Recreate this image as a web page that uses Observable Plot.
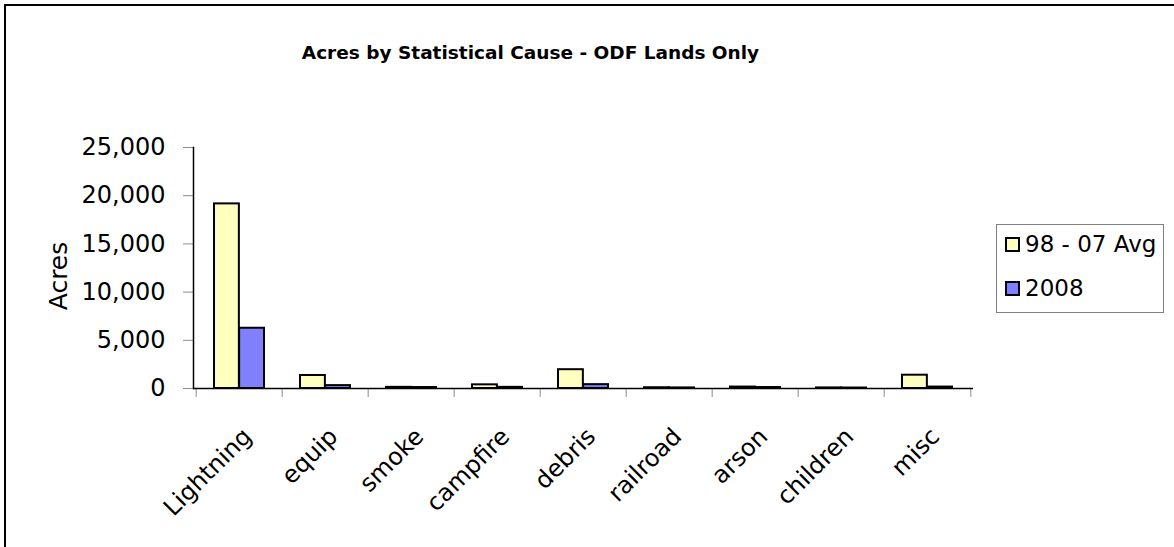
<!DOCTYPE html>
<html>
<head>
<meta charset="utf-8">
<script src="https://cdn.jsdelivr.net/npm/d3@7"></script>
<script src="https://cdn.jsdelivr.net/npm/@observablehq/plot@0.6"></script>
<style>
  html, body { margin: 0; padding: 0; background: #fff; }
  body { width: 1174px; height: 547px; position: relative; overflow: hidden;
         font-family: "Comic Sans MS", "DejaVu Sans", sans-serif; }
  #border { position: absolute; left: 4px; top: 4px; width: 1180px; height: 560px;
            border-left: 2px solid #000; border-top: 2px solid #000; box-sizing: border-box; }
  #title { position: absolute; left: 0; width: 1061px; top: 42px; text-align: center;
           font-weight: bold; font-size: 18.5px; color: #000; }
  #chart { position: absolute; left: 0; top: 0; }
  #legend { position: absolute; left: 996px; top: 224px; width: 168px; height: 89px;
            border: 1px solid #808080; box-sizing: border-box; background: #fff; }
  .item { position: absolute; left: 8px; display: flex; align-items: center; font-size: 23px; color: #000; white-space: nowrap; }
  .sw { width: 11px; height: 11px; border: 2px solid #000; margin-right: 5px; }
  #ylabel { position: absolute; left: 58px; top: 276px; transform: translate(-50%, -50%) rotate(-90deg);
            font-size: 25px; white-space: nowrap; }
</style>
</head>
<body>
<div id="border"></div>
<div id="chart"></div>
<div id="title"></div>
<div id="ylabel"></div>
<div id="legend"></div>
<script>
const titleText = "Acres by Statistical Cause - ODF Lands Only";
const yLabel = "Acres";
const categories = ["Lightning", "equip", "smoke", "campfire", "debris", "railroad", "arson", "children", "misc"];
const seriesNames = ["98 - 07 Avg", "2008"];
const avgValues = [19150, 1350, 120, 380, 1950, 80, 150, 60, 1380];
const values2008 = [6250, 300, 100, 120, 400, 60, 100, 50, 150];
const yTicks = [0, 5000, 10000, 15000, 20000, 25000];
const colors = ["#FFFFC0", "#8080FF"];

const W = 1174, H = 547;
const mL = 193, mR = 201, mT = 147, mB = 159;
const pInner = 0.42, pOuter = 0.21;
const plotW = W - mL - mR;
const step = plotW / (categories.length - pInner + 2 * pOuter);
const bw = step * (1 - pInner);
const half = bw / 2;

const avgData = categories.map((c, i) => ({cat: c, value: avgValues[i]}));
const d2008 = categories.map((c, i) => ({cat: c, value: values2008[i]}));
const fmt = d3.format(",");

const font = "'Comic Sans MS', 'DejaVu Sans', sans-serif";

const chart = Plot.plot({
  width: W, height: H,
  marginLeft: mL, marginRight: mR, marginTop: mT, marginBottom: mB,
  style: {fontFamily: font, fontSize: "20px", background: "transparent", color: "#000", overflow: "visible"},
  x: {type: "band", domain: categories, paddingInner: pInner, paddingOuter: pOuter, label: null},
  y: {domain: [0, 25000], label: null},
  marks: [
    Plot.barY(avgData, {x: "cat", y: "value", fill: colors[0], stroke: "#000", strokeWidth: 2, insetRight: half}),
    Plot.barY(d2008, {x: "cat", y: "value", fill: colors[1], stroke: "#000", strokeWidth: 2, insetLeft: half}),
    Plot.axisY({ticks: yTicks, tickFormat: fmt, tickSize: 10, tickPadding: 18, stroke: "#8c8c8c", fontSize: 24, label: null}),
    Plot.axisX({tickSize: 9, tickFormat: () => "", dx: -step / 2, stroke: "#8c8c8c", label: null}),
    Plot.axisX({ticks: [categories[categories.length - 1]], tickSize: 9, tickFormat: () => "", dx: step / 2, stroke: "#8c8c8c", label: null}),
    Plot.axisX({tickSize: 0, tickRotate: -45, tickPadding: 44, dx: 8, fontSize: 24, label: null}),
    Plot.frame({anchor: "left", stroke: "#000", strokeWidth: 1.5}),
    Plot.ruleY([0], {stroke: "#000", strokeWidth: 1.5})
  ]
});
document.getElementById("chart").appendChild(chart);
document.getElementById("title").textContent = titleText;
document.getElementById("ylabel").textContent = yLabel;

const legend = document.getElementById("legend");
seriesNames.forEach((name, i) => {
  const item = document.createElement("div");
  item.className = "item";
  item.style.top = (i === 0 ? 6 : 50) + "px";
  const sw = document.createElement("div");
  sw.className = "sw";
  sw.style.background = colors[i];
  const t = document.createElement("span");
  t.textContent = name;
  item.appendChild(sw); item.appendChild(t);
  legend.appendChild(item);
});
</script>
</body>
</html>
